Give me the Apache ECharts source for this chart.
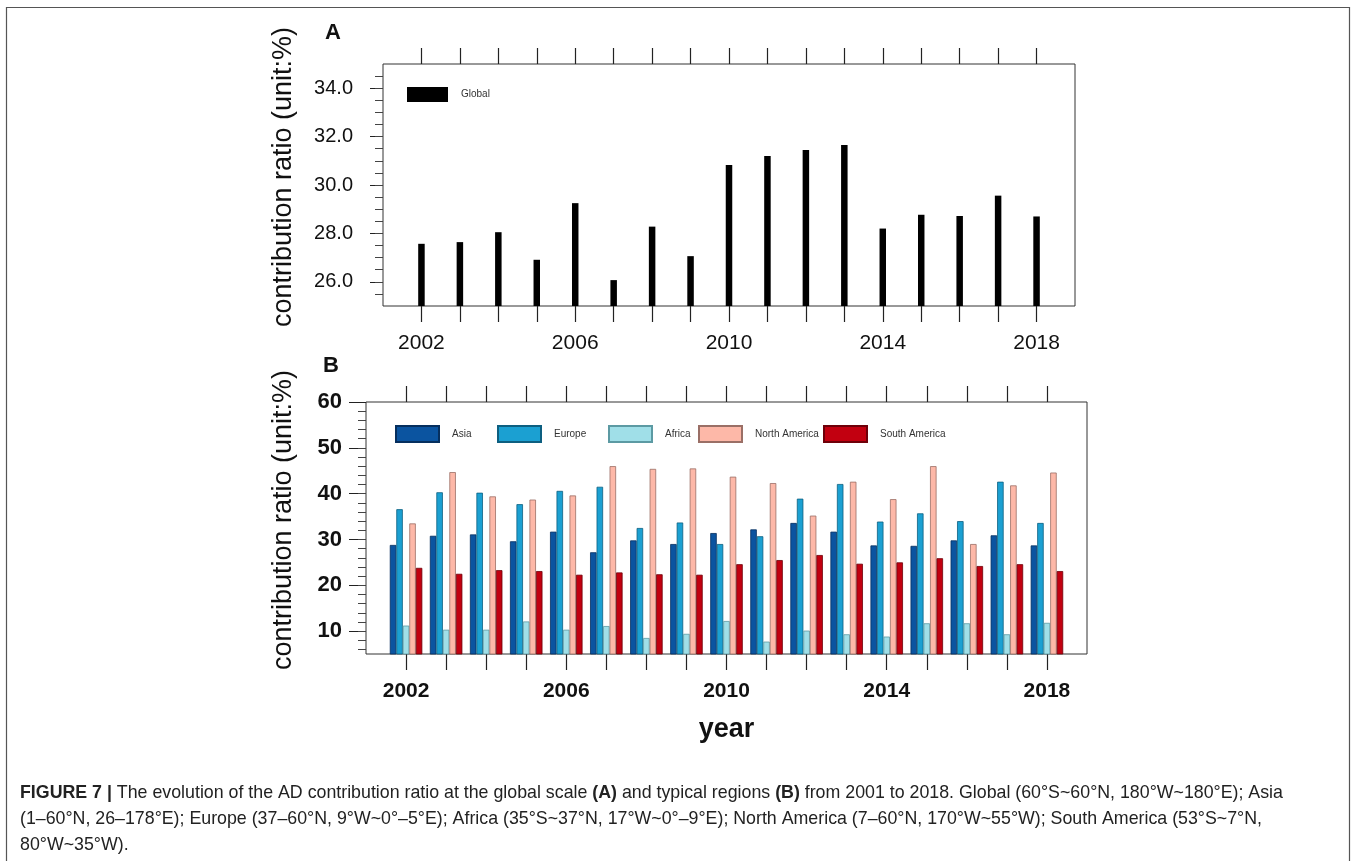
<!DOCTYPE html>
<html>
<head>
<meta charset="utf-8">
<title>AD contribution ratio</title>
<script src="https://cdn.jsdelivr.net/npm/echarts@6/dist/echarts.min.js"></script>
<style>
  html, body { margin: 0; padding: 0; background: #fff; }
  #chart { width: 1352px; height: 861px; }
</style>
</head>
<body>
<div id="chart"></div>
<script>
// years shown on both panels
var years = [2002, 2003, 2004, 2005, 2006, 2007, 2008, 2009, 2010, 2011, 2012, 2013, 2014, 2015, 2016, 2017, 2018];
var yearLabels = [2002, 2006, 2010, 2014, 2018];

// panel A: global contribution ratio (%)
var globalRatio = [27.57, 27.64, 28.05, 26.91, 29.25, 26.07, 28.28, 27.06, 30.83, 31.20, 31.45, 31.65, 28.20, 28.77, 28.72, 29.56, 28.70];

// panel B: regional contribution ratio (%)
var asia = [28.8, 30.8, 31.1, 29.6, 31.7, 27.2, 29.8, 29.0, 31.4, 32.2, 33.6, 31.7, 28.7, 28.6, 29.8, 30.9, 28.7];
var europe = [36.6, 40.3, 40.2, 37.7, 40.6, 41.5, 32.5, 33.7, 29.0, 30.7, 38.9, 42.1, 33.9, 35.7, 34.0, 42.6, 33.6];
var africa = [11.2, 10.3, 10.3, 12.1, 10.3, 11.1, 8.5, 9.4, 12.2, 7.7, 10.1, 9.3, 8.8, 11.7, 11.7, 9.3, 11.8];
var northAmerica = [33.5, 44.7, 39.4, 38.7, 39.6, 46.0, 45.4, 45.5, 43.7, 42.3, 35.2, 42.6, 38.8, 46.0, 29.0, 41.8, 44.6];
var southAmerica = [23.8, 22.5, 23.3, 23.1, 22.3, 22.8, 22.4, 22.3, 24.6, 25.5, 26.6, 24.7, 25.0, 25.9, 24.2, 24.6, 23.1];

// tick labels
var ticksA = [26, 28, 30, 32, 34];
var ticksB = [10, 20, 30, 40, 50, 60];

var minorA = [];
for (var a = 25.5; a < 35; a += 0.5) { minorA.push(a); }
var minorB = [];
for (var b = 6; b < 60; b += 2) { minorB.push(b); }

var FONT = "'Liberation Sans', Arial, Helvetica, sans-serif";

function pairs(vals) {
    return years.map(function (y, i) { return [y, vals[i]]; });
}

var myChart = echarts.init(document.getElementById('chart'), null, { renderer: 'canvas' });

var yearFmt = function (v) { return String(v); };

function xAxisCfg(grid, pos, showLabel, bold) {
    return {
        type: 'value', gridIndex: grid, position: pos,
        min: 2001, max: 2019,
        axisLine: { show: false },
        splitLine: { show: false },
        axisTick: { show: true, customValues: years, length: 16, lineStyle: { color: '#222', width: 1.2 } },
        axisLabel: {
            show: showLabel, customValues: yearLabels, formatter: yearFmt,
            margin: 27, fontSize: 21, color: '#111', fontFamily: FONT,
            fontWeight: bold ? 'bold' : 'normal'
        }
    };
}

var option = {
    animation: false,
    backgroundColor: '#fff',
    textStyle: { fontFamily: FONT },
    title: [
        { text: 'A', left: 325, top: 22, padding: 0, textStyle: { fontSize: 22, fontWeight: 'bold', color: '#111', fontFamily: FONT } },
        { text: 'B', left: 323, top: 355, padding: 0, textStyle: { fontSize: 22, fontWeight: 'bold', color: '#111', fontFamily: FONT } },
        {
            left: 20, top: 780, padding: 0,
            text: '{b|FIGURE 7 |} The evolution of the AD contribution ratio at the global scale {b|(A)} and typical regions {b|(B)} from 2001 to 2018. Global (60°S~60°N, 180°W~180°E); Asia\n' +
                  '(1–60°N, 26–178°E); Europe (37–60°N, 9°W~0°–5°E); Africa (35°S~37°N, 17°W~0°–9°E); North America (7–60°N, 170°W~55°W); South America (53°S~7°N,\n' +
                  '80°W~35°W).',
            textStyle: {
                fontSize: 17.8, fontWeight: 'normal', color: '#222', fontFamily: FONT, lineHeight: 26,
                rich: { b: { fontSize: 17.8, fontWeight: 'bold', color: '#222', fontFamily: FONT, lineHeight: 26 } }
            }
        }
    ],
    legend: [
        { data: ['Global'], left: 407, top: 87, padding: 0, itemWidth: 41, itemHeight: 15, icon: 'rect', textStyle: { fontSize: 10, color: '#333', padding: [0, 0, 0, 8] } },
        { data: ['Asia'], left: 395, top: 425, padding: 0, itemWidth: 43, itemHeight: 16, icon: 'rect', textStyle: { fontSize: 10, color: '#333', padding: [0, 0, 0, 8] } },
        { data: ['Europe'], left: 497, top: 425, padding: 0, itemWidth: 43, itemHeight: 16, icon: 'rect', textStyle: { fontSize: 10, color: '#333', padding: [0, 0, 0, 8] } },
        { data: ['Africa'], left: 608, top: 425, padding: 0, itemWidth: 43, itemHeight: 16, icon: 'rect', textStyle: { fontSize: 10, color: '#333', padding: [0, 0, 0, 8] } },
        { data: ['North America'], left: 698, top: 425, padding: 0, itemWidth: 43, itemHeight: 16, icon: 'rect', textStyle: { fontSize: 10, color: '#333', padding: [0, 0, 0, 8] } },
        { data: ['South America'], left: 823, top: 425, padding: 0, itemWidth: 43, itemHeight: 16, icon: 'rect', textStyle: { fontSize: 10, color: '#333', padding: [0, 0, 0, 8] } }
    ],
    grid: [
        { left: 383, top: 64, width: 692, height: 242, show: true, borderColor: '#333', borderWidth: 1, backgroundColor: 'transparent' },
        { left: 366, top: 402, width: 721, height: 252, show: true, borderColor: '#333', borderWidth: 1, backgroundColor: 'transparent' }
    ],
    xAxis: [
        xAxisCfg(0, 'bottom', true, false),
        xAxisCfg(0, 'top', false, false),
        (function () {
            var ax = xAxisCfg(1, 'bottom', true, true);
            ax.name = 'year';
            ax.nameLocation = 'middle';
            ax.nameGap = 62;
            ax.nameTextStyle = { fontSize: 27, fontWeight: 'bold', color: '#111', fontFamily: FONT };
            return ax;
        })(),
        xAxisCfg(1, 'top', false, false)
    ],
    yAxis: [
        {
            type: 'value', gridIndex: 0, position: 'left', min: 25, max: 35,
            name: 'contribution ratio (unit:%)', nameLocation: 'middle', nameRotate: 90, nameGap: 86,
            nameTextStyle: { fontSize: 27, color: '#111', fontFamily: FONT, padding: [0, 0, 0, 16] },
            axisLine: { show: false }, splitLine: { show: false },
            axisTick: { show: true, customValues: ticksA, length: 13, lineStyle: { color: '#222' } },
            axisLabel: { customValues: ticksA, formatter: function (v) { return v.toFixed(1); }, margin: 30, fontSize: 20, color: '#111', fontFamily: FONT }
        },
        {
            type: 'value', gridIndex: 0, position: 'left', min: 25, max: 35,
            axisLine: { show: false }, splitLine: { show: false },
            axisTick: { show: true, customValues: minorA, length: 8, lineStyle: { color: '#444' } },
            axisLabel: { show: false }
        },
        {
            type: 'value', gridIndex: 1, position: 'left', min: 5, max: 60,
            name: 'contribution ratio (unit:%)', nameLocation: 'middle', nameRotate: 90, nameGap: 69,
            nameTextStyle: { fontSize: 27, color: '#111', fontFamily: FONT, padding: [0, 0, 0, 16] },
            axisLine: { show: false }, splitLine: { show: false },
            axisTick: { show: true, customValues: ticksB, length: 17, lineStyle: { color: '#222' } },
            axisLabel: { customValues: ticksB, margin: 24, fontSize: 22, fontWeight: 'bold', color: '#111', fontFamily: FONT }
        },
        {
            type: 'value', gridIndex: 1, position: 'left', min: 5, max: 60,
            axisLine: { show: false }, splitLine: { show: false },
            axisTick: { show: true, customValues: minorB, length: 8, lineStyle: { color: '#444' } },
            axisLabel: { show: false }
        }
    ],
    series: [
        {
            name: 'Global', type: 'bar', xAxisIndex: 0, yAxisIndex: 0,
            barWidth: 6.5, data: pairs(globalRatio),
            itemStyle: { color: '#000' }
        },
        {
            name: 'Asia', type: 'bar', xAxisIndex: 2, yAxisIndex: 2, barWidth: 6.5, barGap: '0%',
            data: pairs(asia), itemStyle: { color: '#0b54a0', borderColor: '#062f5e', borderWidth: 0.8 }
        },
        {
            name: 'Europe', type: 'bar', xAxisIndex: 2, yAxisIndex: 2, barWidth: 6.5, barGap: '0%',
            data: pairs(europe), itemStyle: { color: '#1ba0d2', borderColor: '#0d5f80', borderWidth: 0.8 }
        },
        {
            name: 'Africa', type: 'bar', xAxisIndex: 2, yAxisIndex: 2, barWidth: 6.5, barGap: '0%',
            data: pairs(africa), itemStyle: { color: '#a0dfe8', borderColor: '#5c9aa3', borderWidth: 0.8 }
        },
        {
            name: 'North America', type: 'bar', xAxisIndex: 2, yAxisIndex: 2, barWidth: 6.5, barGap: '0%',
            data: pairs(northAmerica), itemStyle: { color: '#fdb8a8', borderColor: '#9a6f66', borderWidth: 0.8 }
        },
        {
            name: 'South America', type: 'bar', xAxisIndex: 2, yAxisIndex: 2, barWidth: 6.5, barGap: '0%',
            data: pairs(southAmerica), itemStyle: { color: '#c20010', borderColor: '#6e0009', borderWidth: 0.8 }
        }
    ],
    graphic: [
        // thin frame round the whole figure
        { type: 'rect', left: 4, top: 5, shape: { width: 1343, height: 900 }, style: { fill: 'none', stroke: '#555', lineWidth: 1.2 }, silent: true }
    ]
};

myChart.setOption(option);
</script>
</body>
</html>
